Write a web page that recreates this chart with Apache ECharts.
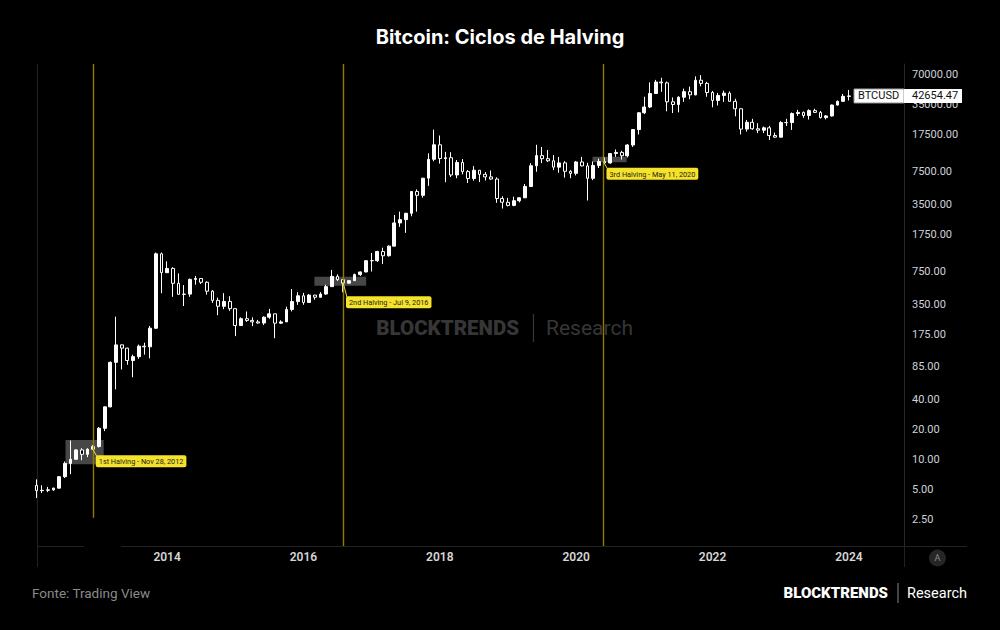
<!DOCTYPE html>
<html>
<head>
<meta charset="utf-8">
<script src="https://cdn.jsdelivr.net/npm/echarts@6/dist/echarts.min.js"></script>
<style>
html,body{margin:0;padding:0;background:#000;}
#c{width:1000px;height:630px;}
</style>
</head>
<body>
<div id="c"></div>
<script>
// ---------------- DATA (monthly BTCUSD candles) ----------------
const months = [
'2012-02','2012-03','2012-04','2012-05','2012-06','2012-07','2012-08','2012-09','2012-10','2012-11','2012-12',
'2013-01','2013-02','2013-03','2013-04','2013-05','2013-06','2013-07','2013-08','2013-09','2013-10','2013-11','2013-12',
'2014-01','2014-02','2014-03','2014-04','2014-05','2014-06','2014-07','2014-08','2014-09','2014-10','2014-11','2014-12',
'2015-01','2015-02','2015-03','2015-04','2015-05','2015-06','2015-07','2015-08','2015-09','2015-10','2015-11','2015-12',
'2016-01','2016-02','2016-03','2016-04','2016-05','2016-06','2016-07','2016-08','2016-09','2016-10','2016-11','2016-12',
'2017-01','2017-02','2017-03','2017-04','2017-05','2017-06','2017-07','2017-08','2017-09','2017-10','2017-11','2017-12',
'2018-01','2018-02','2018-03','2018-04','2018-05','2018-06','2018-07','2018-08','2018-09','2018-10','2018-11','2018-12',
'2019-01','2019-02','2019-03','2019-04','2019-05','2019-06','2019-07','2019-08','2019-09','2019-10','2019-11','2019-12',
'2020-01','2020-02','2020-03','2020-04','2020-05','2020-06','2020-07','2020-08','2020-09','2020-10','2020-11','2020-12',
'2021-01','2021-02','2021-03','2021-04','2021-05','2021-06','2021-07','2021-08','2021-09','2021-10','2021-11','2021-12',
'2022-01','2022-02','2022-03','2022-04','2022-05','2022-06','2022-07','2022-08','2022-09','2022-10','2022-11','2022-12',
'2023-01','2023-02','2023-03','2023-04','2023-05','2023-06','2023-07','2023-08','2023-09','2023-10','2023-11','2023-12',
'2024-01'
];
const open = [
5.48,4.86,4.90,4.95,5.15,6.70,9.10,10.00,12.40,11.20,12.60,
13.40,20.40,33.40,93.0,139.0,129.0,97.0,106.0,135.0,133.0,204.0,1130,
732,807,573,445,447,627,640,587,478,387,338,378,
320,217,254,244,236,230,263,284,229,236,314,377,
430,369,437,416,448,531,673,624,575,609,700,744,
964,965,1190,1080,1348,2300,2480,2870,4735,4340,6440,9950,
13880,10110,10300,6930,9240,7490,6390,7730,7030,6630,6310,4030,
3700,3440,3830,4100,5320,8570,10820,10080,9600,8300,9150,7540,
7190,9350,8540,6420,8630,9450,9140,11350,11650,10780,13800,19700,
28990,33110,45160,58800,57700,37300,35050,41500,47100,43800,61300,57000,
46200,38500,43200,45500,37700,31800,19900,23300,20050,19420,20500,17160,
16540,23130,23150,28480,29250,27220,30480,29230,25940,26960,34650,37720,
42280
];
const high = [
6.30,5.50,5.30,5.20,6.80,9.50,15.40,12.60,12.90,12.90,13.90,
21.0,33.7,95.0,266,140,130,111,140,146,215,1163,1163,
950,830,720,550,640,680,640,600,490,412,457,426,
320,262,300,262,247,268,318,285,245,335,502,467,
460,448,439,468,555,780,704,628,616,718,752,979,
1153,1211,1300,1375,2760,2980,2900,4780,4980,6470,11400,19666,
17180,11790,11700,9770,9990,7770,8500,7750,7410,7680,6560,4250,
4090,4200,4140,5630,9090,13880,13200,12320,10950,10500,9510,7750,
9570,10500,9180,9460,10080,10380,11450,12470,12080,14100,19900,29300,
41950,58350,61790,64900,59500,41300,42300,50500,52900,67000,69000,59100,
47950,45800,48200,47400,40000,31900,24600,25200,22800,21100,21450,18400,
23950,25250,29200,31000,29850,31400,31800,30200,27480,35000,38450,44700,
48970
];
const low = [
4.10,4.60,4.70,4.85,5.10,6.50,7.10,9.90,9.80,10.50,12.40,
13.10,19.10,33.10,50.0,79.0,88.0,66.0,101,111,102,200,456,
730,420,440,340,420,555,565,441,365,275,316,304,
170,215,236,214,227,220,253,162,225,236,300,349,
350,368,393,413,439,531,606,466,573,605,680,740,
752,936,892,1060,1348,2100,1830,2680,2980,4110,5400,9500,
9000,5870,6600,6430,7030,5760,6070,5880,6100,6200,3650,3200,
3360,3380,3690,4070,5300,7460,9100,9330,7750,7300,6520,6430,
6850,8450,3850,6150,8130,8900,8980,10520,9880,10380,13200,17600,
28130,32300,45000,47000,30000,28800,29300,37300,39600,43300,53300,41900,
32900,34300,37200,37600,26700,17600,18800,19600,18150,18200,15500,16300,
16500,21400,19550,26950,25800,24800,28850,25400,24900,26550,34100,37620,
38500
];
const close = [
4.86,4.90,4.95,5.15,6.70,9.10,10.00,12.40,11.20,12.60,13.40,
20.40,33.40,93.0,139.0,129.0,97.0,106.0,135.0,133.0,204.0,1130,732,
807,573,445,447,627,640,587,478,387,338,378,320,
217,254,244,236,230,263,284,229,236,314,377,430,
369,437,416,448,531,673,624,575,609,700,744,964,
965,1190,1080,1348,2300,2480,2870,4735,4340,6440,9950,13880,
10110,10300,6930,9240,7490,6390,7730,7030,6630,6310,4030,3700,
3440,3830,4100,5320,8570,10820,10080,9600,8300,9150,7540,7190,
9350,8540,6420,8630,9450,9140,11350,11650,10780,13800,19700,28990,
33110,45160,58800,57700,37300,35050,41500,47100,43800,61300,57000,46200,
38500,43200,45500,37700,31800,19900,23300,20050,19420,20500,17160,16540,
23130,23150,28480,29250,27220,30480,29230,25940,26960,34650,37720,42280,
42654.47
];
const yTickValues = [2.5,5,10,20,40,85,175,350,750,1750,3500,7500,17500,35000,70000];
const xYearLabels = ['2014','2016','2018','2020','2022','2024'];

// halvings: labels, line position (decimal year, as drawn), price where the label connector starts
const halvingLabels = ['1st Halving - Nov 28, 2012','2nd Halving - Jul 9, 2016','3rd Halving - May 11, 2020'];
const halvingLineYear = [2012.91, 2016.58, 2020.40];
const halvingLineLow = [2.6, null, null];
const halvingAnchorPrice = [12.6, 587, 9400];
// grey highlight boxes around each halving (decimal years, prices)
const halvingBoxYears = [[2012.51, 2013.07], [2016.16, 2016.92], [2020.24, 2020.74]];
const halvingBoxPrices = [[8.9, 15.6], [543, 667], [9280, 10550]];

const symbolName = 'BTCUSD';
const lastPrice = 42654.47;

// ---------------- helpers ----------------
const monthIdx = m => (parseInt(m.slice(0,4)) - 2000) * 12 + (parseInt(m.slice(5,7)) - 1);
const yearIdx = y => (y - 2000) * 12;

const candles = months.map((m, i) => [monthIdx(m), open[i], close[i], low[i], high[i]]);

const X_MIN = 145.1, X_MAX = 297.7;
const Y_MIN = 1.36, Y_MAX = 89030;

const lineData = halvingLineYear.map((y, i) => [
  {coord: [yearIdx(y), Y_MAX]},
  {coord: [yearIdx(y), halvingLineLow[i] == null ? Y_MIN : halvingLineLow[i]]}
]);
const areaData = halvingBoxYears.map((yy, i) => [
  {coord: [yearIdx(yy[0]), halvingBoxPrices[i][1]]},
  {coord: [yearIdx(yy[1]), halvingBoxPrices[i][0]]}
]);

const FONT = 'Roboto, "Liberation Sans", sans-serif';

const option = {
  backgroundColor: '#000000',
  animation: false,
  title: {
    text: 'Bitcoin: Ciclos de Halving',
    left: 'center',
    top: 22,
    textStyle: {color: '#ffffff', fontSize: 20, fontWeight: 'bold', fontFamily: 'Inter, Roboto, sans-serif'}
  },
  grid: {left: 37, right: 96, top: 64, bottom: 84, containLabel: false, outerBoundsMode: 'none'},
  xAxis: {
    type: 'value',
    min: X_MIN, max: X_MAX,
    axisLine: {show: false},
    axisTick: {show: false},
    splitLine: {show: false},
    axisLabel: {
      customValues: xYearLabels.map(l => yearIdx(parseInt(l))),
      formatter: v => xYearLabels[xYearLabels.map(l => yearIdx(parseInt(l))).indexOf(v)] || '',
      color: '#d6d6d6', fontSize: 12, fontWeight: 600, fontFamily: FONT, margin: 5
    }
  },
  yAxis: {
    type: 'log', logBase: 10,
    position: 'right',
    min: Y_MIN, max: Y_MAX,
    axisLine: {show: true, lineStyle: {color: '#262626', width: 1}},
    axisTick: {show: false},
    splitLine: {show: false},
    axisLabel: {
      customValues: yTickValues,
      formatter: v => Number(v).toFixed(2),
      color: '#cfd2d8', fontSize: 11, fontFamily: FONT, margin: 8
    }
  },
  series: [{
    type: 'candlestick',
    data: candles,
    dimensions: ['t', 'open', 'close', 'low', 'high'],
    encode: {x: 't', y: ['open', 'close', 'low', 'high']},
    barWidth: 3.3,
    itemStyle: {color: '#ffffff', color0: '#000000', borderColor: '#ffffff', borderColor0: '#ffffff', borderWidth: 1},
    markArea: {silent: true, itemStyle: {color: 'rgba(130,130,130,0.55)'}, data: areaData},
    markLine: {
      silent: true, symbol: ['none', 'none'], label: {show: false},
      lineStyle: {color: '#8f7c00', width: 1.4, type: 'solid', opacity: 1},
      emphasis: {disabled: true},
      data: lineData
    }
  }]
};

const chart = echarts.init(document.getElementById('c'), null, {renderer: 'svg'});
chart.setOption(option);

// ---------------- annotations positioned through the chart's own scales ----------------
const px = (t, p) => chart.convertToPixel({gridIndex: 0}, [t, p]);
const YELLOW = '#f5e22a';
const labelDy = [6, 14, 6];
const g = [];

halvingLabels.forEach((txt, i) => {
  const a = px(yearIdx(halvingLineYear[i]), halvingAnchorPrice[i]);
  const bx = a[0] + 3, by = a[1] + labelDy[i];
  g.push({type: 'line', z: 50, shape: {x1: a[0], y1: a[1], x2: bx + 1, y2: by + 1}, style: {stroke: YELLOW, lineWidth: 1}});
  g.push({type: 'text', z: 51, x: bx, y: by,
    style: {text: txt, fill: '#222222', font: '7.3px ' + FONT, backgroundColor: YELLOW,
            padding: [3, 3, 2, 3], borderRadius: 2, textVerticalAlign: 'top', verticalAlign: 'top'}});
});

// last price tags
const lp = px(X_MAX, lastPrice);
const gridRight = lp[0];
g.push({type: 'rect', z: 60, shape: {x: gridRight - 50, y: lp[1] - 7, width: 50, height: 14},
  style: {fill: '#ffffff', stroke: '#9a9a9a', lineWidth: 1}});
g.push({type: 'text', z: 61, x: gridRight - 46, y: lp[1],
  style: {text: symbolName, fill: '#111111', font: '11px ' + FONT, verticalAlign: 'middle', textVerticalAlign: 'middle'}});
g.push({type: 'rect', z: 60, shape: {x: gridRight, y: lp[1] - 7, width: 58, height: 14},
  style: {fill: '#ffffff'}});
g.push({type: 'text', z: 61, x: gridRight + 8, y: lp[1],
  style: {text: lastPrice.toFixed(2), fill: '#111111', font: '11px ' + FONT, verticalAlign: 'middle', textVerticalAlign: 'middle'}});

// panel frame lines (decoration)
const FR = '#222222';
g.push({type: 'line', z: 1, shape: {x1: 37.5, y1: 64, x2: 37.5, y2: 567}, style: {stroke: FR, lineWidth: 1}});
g.push({type: 'line', z: 1, shape: {x1: 904.5, y1: 546, x2: 904.5, y2: 567}, style: {stroke: FR, lineWidth: 1}});
g.push({type: 'line', z: 1, shape: {x1: 37, y1: 546.5, x2: 84, y2: 546.5}, style: {stroke: FR, lineWidth: 1}});
g.push({type: 'line', z: 1, shape: {x1: 121, y1: 546.5, x2: 967, y2: 546.5}, style: {stroke: FR, lineWidth: 1}});

// auto-scale button
g.push({type: 'circle', z: 5, shape: {cx: 937.5, cy: 558, r: 8.5}, style: {fill: '#262626'}});
g.push({type: 'text', z: 6, x: 937.5, y: 558, style: {text: 'A', fill: '#8c8c8c', font: '9px ' + FONT, align: 'center', verticalAlign: 'middle', textAlign: 'center', textVerticalAlign: 'middle'}});

// watermark
g.push({type: 'text', z: 0, x: 519, y: 328, style: {text: 'BLOCKTRENDS', fill: '#363636', font: '900 20.5px ' + FONT, align: 'right', textAlign: 'right', verticalAlign: 'middle', textVerticalAlign: 'middle'}});
g.push({type: 'line', z: 0, shape: {x1: 533.5, y1: 314, x2: 533.5, y2: 342}, style: {stroke: '#363636', lineWidth: 1.2}});
g.push({type: 'text', z: 0, x: 546, y: 328, style: {text: 'Research', fill: '#363636', font: '21px ' + FONT, verticalAlign: 'middle', textVerticalAlign: 'middle'}});

// footer
g.push({type: 'text', z: 5, x: 32, y: 593, style: {text: 'Fonte: Trading View', fill: '#8a8a8a', font: '13.5px ' + FONT, verticalAlign: 'middle', textVerticalAlign: 'middle'}});
g.push({type: 'text', z: 5, x: 888, y: 593, style: {text: 'BLOCKTRENDS', fill: '#ffffff', font: '900 15px ' + FONT, align: 'right', textAlign: 'right', verticalAlign: 'middle', textVerticalAlign: 'middle'}});
g.push({type: 'line', z: 5, shape: {x1: 898, y1: 583, x2: 898, y2: 603}, style: {stroke: '#8a8a8a', lineWidth: 1}});
g.push({type: 'text', z: 5, x: 907, y: 593, style: {text: 'Research', fill: '#ffffff', font: '14.5px ' + FONT, verticalAlign: 'middle', textVerticalAlign: 'middle'}});

chart.setOption({graphic: {elements: g}});
</script>
</body>
</html>
